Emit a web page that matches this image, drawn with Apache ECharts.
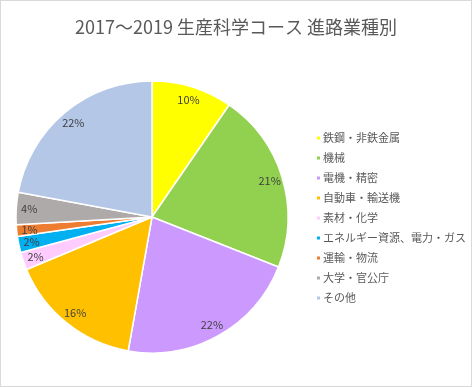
<!DOCTYPE html>
<html><head><meta charset="utf-8">
<script src="https://cdn.jsdelivr.net/npm/echarts@6/dist/echarts.min.js"></script>
<style>html,body{margin:0;padding:0;background:#fff;}#c{width:472px;height:387px;box-sizing:border-box;border:1px solid #d9d9d9;}</style>
</head><body><div id="c"></div>
<script>
const titleText = '2017～2019 生産科学コース 進路業種別';
const categories = ['鉄鋼・非鉄金属','機械','電機・精密','自動車・輸送機','素材・化学','エネルギー資源、電力・ガス','運輸・物流','大学・官公庁','その他'];
const values = [9.6, 21.4, 21.8, 15.9, 2.1, 1.9, 1.4, 3.8, 22.1];
const colors = ['#FFFF00','#92D050','#CC99FF','#FFC000','#FFCCFF','#00B0F0','#ED7D31','#AEAAAA','#B4C7E7'];

const data = categories.map((n,i)=>({name:n, value:values[i], itemStyle:{color:colors[i]}}));
const labelData = categories.map((n,i)=>({name:n, value:values[i]}));
const font = '"Noto Sans CJK JP", "Noto Sans", sans-serif';
const chart = echarts.init(document.getElementById('c'), null, {renderer:'canvas'});
chart.setOption({
  animation:false,
  color:colors,
  title:{text:titleText,left:'center',top:12,textStyle:{fontFamily:font,fontSize:18,fontWeight:'normal',color:'#595959'}},
  legend:{orient:'vertical',left:309,top:125,itemWidth:5,itemHeight:5,itemGap:6,icon:'rect',
    data:categories,textStyle:{fontFamily:font,fontSize:11,color:'#595959',lineHeight:14,padding:[0,0,0,-3]}},
  series:[
    {type:'pie',center:[151,216],radius:[0,136],startAngle:90,clockwise:true,data:data,
     itemStyle:{borderColor:'#fff',borderWidth:1.5},label:{show:false},labelLine:{show:false},silent:true},
    {type:'pie',center:[151,216],radius:[104,136],startAngle:90,clockwise:true,data:labelData,
     itemStyle:{color:'rgba(0,0,0,0)',borderWidth:0},silent:true,labelLine:{show:false},
     label:{show:true,position:'inside',fontFamily:font,fontSize:11,color:'#404040',
       formatter:p=>Math.round(p.percent)+'%'}}
  ]
});
</script></body></html>
